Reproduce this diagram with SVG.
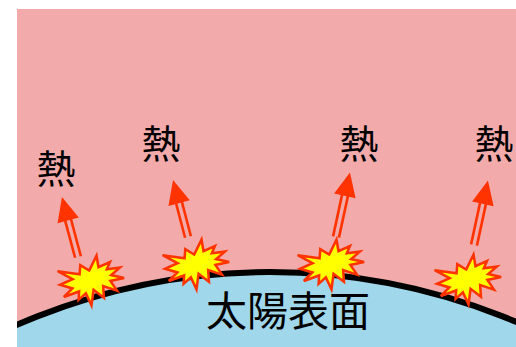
<svg xmlns="http://www.w3.org/2000/svg" xmlns:xlink="http://www.w3.org/1999/xlink" width="516" height="347" viewBox="0 0 516 347">
  <style>
    .label { font-family: "Noto Sans CJK JP", "Noto Sans", sans-serif; fill: #000; text-anchor: middle; }
    .heat { font-size: 39px; }
    .surface-label { font-size: 41px; }
    .shaft { stroke: #ff3300; stroke-width: 2.6; fill: none; }
    .head { fill: #ff3300; }
    .burst { fill: #ffff00; stroke: #ff3300; stroke-width: 2.4; stroke-linejoin: miter; }
  </style>
  <defs>
    <clipPath id="frame">
      <rect x="17" y="9" width="499" height="338"/>
    </clipPath>
    <!-- flare burst, centred on the origin -->
    <polygon id="flare" points="0,-10.2 10.3,-22 9.3,-11.1 21,-12.9 16.4,-7.1 28.6,-5.4 18.9,-0.7 30,5.1 16.8,4.4 20.4,14.9 8.9,7.4 6.8,18.2 -0.7,8.4 -6.4,22 -8.6,9.8 -16.8,13.9 -14.3,6.4 -29.6,7.7 -19.7,2 -30,-4.4 -17.2,-6.5 -29,-17.3 -9.7,-9.1 -6.8,-17.3"/>
  </defs>

  <!-- sky and sun disc -->
  <g id="background" clip-path="url(#frame)">
    <rect x="17" y="9" width="499" height="338" fill="#f2abaa"/>
    <circle cx="270" cy="904" r="632" fill="#a0d7ea" stroke="#000" stroke-width="6"/>
  </g>

  <!-- heat arrows: tail at origin, pointing up, then rotated -->
  <g id="connectors">
    <g id="arrow-1" transform="translate(78,257) rotate(-15)">
      <line class="shaft" x1="-3" y1="0" x2="-3" y2="-40"/>
      <line class="shaft" x1="3" y1="0" x2="3" y2="-40"/>
      <polygon class="head" points="-11,-38 11,-38 0,-62"/>
    </g>
    <g id="arrow-2" transform="translate(188,237) rotate(-14.7)">
      <line class="shaft" x1="-3" y1="0" x2="-3" y2="-37"/>
      <line class="shaft" x1="3" y1="0" x2="3" y2="-37"/>
      <polygon class="head" points="-11,-35 11,-35 0,-59"/>
    </g>
    <g id="arrow-3" transform="translate(336,237) rotate(12.2)">
      <line class="shaft" x1="-3" y1="0" x2="-3" y2="-44"/>
      <line class="shaft" x1="3" y1="0" x2="3" y2="-44"/>
      <polygon class="head" points="-11,-42 11,-42 0,-66"/>
    </g>
    <g id="arrow-4" transform="translate(474,245) rotate(12.2)">
      <line class="shaft" x1="-3" y1="0" x2="-3" y2="-44"/>
      <line class="shaft" x1="3" y1="0" x2="3" y2="-44"/>
      <polygon class="head" points="-11,-42 11,-42 0,-66"/>
    </g>
  </g>

  <!-- flares on the surface -->
  <g id="flare-1"><use xlink:href="#flare" class="burst" transform="translate(92,281) rotate(-15) scale(1.06)"/></g>
  <g id="flare-2"><use xlink:href="#flare" class="burst" transform="translate(197,265) rotate(-15) scale(1.06)"/></g>
  <g id="flare-3"><use xlink:href="#flare" class="burst" transform="translate(332,265) rotate(-15) scale(1.06)"/></g>
  <g id="flare-4"><use xlink:href="#flare" class="burst" transform="translate(469,280) rotate(-15) scale(1.06)"/></g>

  <!-- labels -->
  <g id="heat-1"><text class="label heat" x="56" y="183">熱</text></g>
  <g id="heat-2"><text class="label heat" x="161" y="158">熱</text></g>
  <g id="heat-3"><text class="label heat" x="359" y="158">熱</text></g>
  <g id="heat-4"><text class="label heat" x="494" y="158">熱</text></g>
  <g id="surface"><text class="label surface-label" x="288" y="326">太陽表面</text></g>
</svg>
